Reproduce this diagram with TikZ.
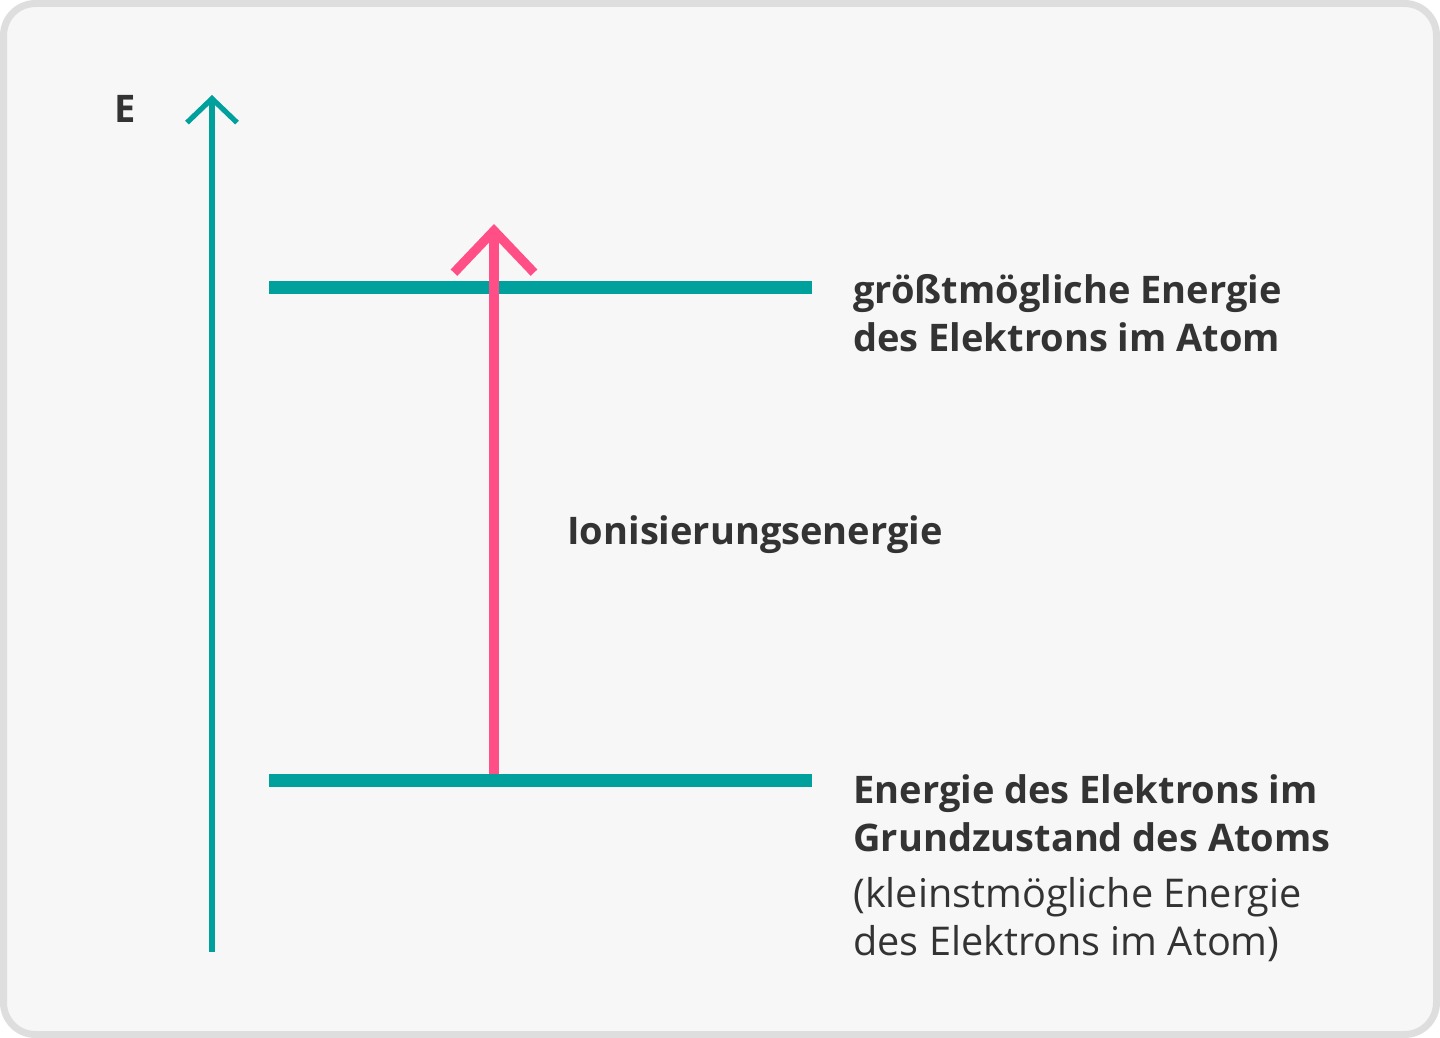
\documentclass[tikz,border=0pt]{standalone}
\usepackage{fontspec}
\setmainfont{Open Sans}
\usetikzlibrary{arrows.meta}
\definecolor{bgfill}{HTML}{F7F7F7}
\definecolor{bgline}{HTML}{DEDEDE}
\definecolor{levelcol}{HTML}{00A19D}
\definecolor{ioncol}{HTML}{FF4F86}
\definecolor{textcol}{HTML}{333333}

\begin{document}
\begin{tikzpicture}[x=.5pt,y=-.5pt,
  level/.style={levelcol,line width=6.5pt},
  lbl/.style={anchor=base west,inner sep=0pt,text=textcol,align=left,
    font=\fontsize{19}{24}\selectfont\bfseries}]
  \useasboundingbox (0,0) rectangle (1440,1038);
  \draw[bgline,fill=bgfill,line width=3.5pt,rounded corners=16pt]
    (3.5,3.5) rectangle (1436.5,1034.5);
  % energy axis
  \coordinate (axisbot) at (212,952);
  \coordinate (axistop) at (212,95);
  \draw[levelcol,line width=2.6pt,-{Straight Barb[length=12pt,width=25pt]}]
    (axisbot) -- (axistop);
  \node[lbl] (elabel) at (114,123) {E};
  % levels
  \coordinate (topW) at (269,287);
  \coordinate (topE) at (812,287);
  \coordinate (gndW) at (269,780);
  \coordinate (gndE) at (812,780);
  \draw[level] (topW) -- (topE);
  \draw[level] (gndW) -- (gndE);
  % ionisation arrow
  \coordinate (ionbot) at (494,774);
  \coordinate (iontop) at (494,224);
  \draw[ioncol,line width=4.6pt,-{Straight Barb[length=21pt,width=40pt]}]
    (ionbot) -- (iontop);
  \node[lbl] (ionlabel) at (567,544) {Ionisierungsenergie};
  % texts at the levels (base = last line)
  \node[lbl] (toplabel) at (853,351) {größtmögliche Energie\\des Elektrons im Atom};
  \node[lbl] (gndlabel) at (853,851) {Energie des Elektrons im\\Grundzustand des Atoms};
  \node[lbl,font=\fontsize{19.8}{24}\selectfont] (gndnote) at (853,955)
    {(kleinstmögliche Energie\\des Elektrons im Atom)};
\end{tikzpicture}
\end{document}
